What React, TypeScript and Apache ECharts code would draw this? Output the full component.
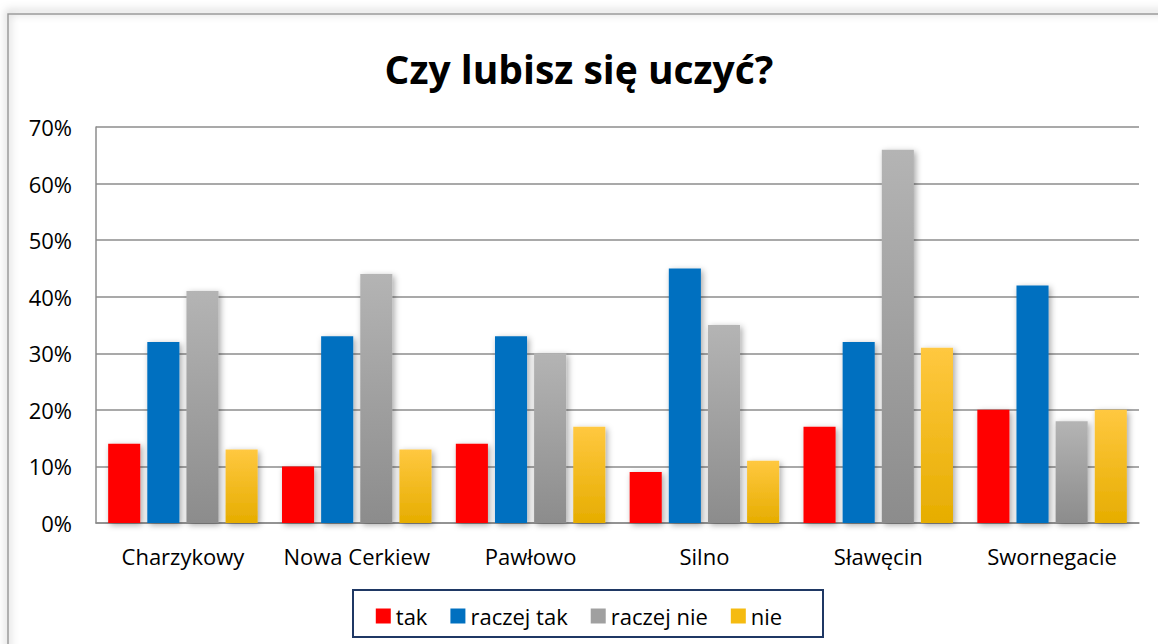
import React, { useEffect, useRef } from "react";
import * as echarts from "echarts";

const categories = ["Charzykowy", "Nowa Cerkiew", "Pawłowo", "Silno", "Sławęcin", "Swornegacie"];
const seriesNames = ["tak", "raczej tak", "raczej nie", "nie"];
const takValues = [14, 10, 14, 9, 17, 20];
const raczejTakValues = [32, 33, 33, 45, 32, 42];
const raczejNieValues = [41, 44, 30, 35, 66, 18];
const nieValues = [13, 13, 17, 11, 31, 20];
const titleText = "Czy lubisz się uczyć?";

const FONT = "'Open Sans', 'Noto Sans', sans-serif";

export default function App() {
  const ref = useRef<HTMLDivElement>(null);
  useEffect(() => {
    if (!ref.current) return;
    const chart = echarts.init(ref.current, null, { renderer: "svg" });
    const grad = (top: string, bottom: string) =>
      new echarts.graphic.LinearGradient(0, 0, 0, 1, [
        { offset: 0, color: top },
        { offset: 1, color: bottom },
      ]);
    const colors = [
      "#ff0000",
      "#0070c0",
      grad("#b4b4b4", "#8c8c8c"),
      grad("#ffc840", "#e6ad00"),
    ];
    const legendColors = ["#ff0000", "#0070c0", "#a0a0a0", "#f5bb10"];
    const data = [takValues, raczejTakValues, raczejNieValues, nieValues];
    chart.setOption({
      animation: false,
      backgroundColor: "#ffffff",
      title: {
        text: titleText,
        left: "center",
        top: 44,
        textStyle: { fontFamily: FONT, fontSize: 39, fontWeight: "bold", color: "#000" },
      },
      graphic: [
        {
          type: "rect",
          shape: { x: 8, y: 14, width: 1180, height: 660 },
          style: { fill: "none", stroke: "#9a9a9a", lineWidth: 1.5, shadowBlur: 8, shadowColor: "rgba(0,0,0,0.5)", shadowOffsetY: -2 },
          z: 10,
          silent: true,
        },
        {
          type: "rect",
          shape: { x: 353, y: 590, width: 470, height: 47 },
          style: { fill: "none", stroke: "#1f3864", lineWidth: 2 },
          z: 10,
          silent: true,
        },
      ],
      legend: {
        data: seriesNames.map((n, i) => ({ name: n, itemStyle: { color: legendColors[i] } })),
        left: "center",
        top: 600,
        itemWidth: 15,
        itemHeight: 15,
        itemGap: 23,
        icon: "rect",
        textStyle: { fontFamily: FONT, fontSize: 22, color: "#000", padding: [0, 0, 0, 0] },
      },
      grid: { left: 96, right: 19, top: 127, bottom: 121, containLabel: false },
      xAxis: {
        type: "category",
        data: categories,
        axisLine: { lineStyle: { color: "#8c8c8c", width: 1.5 } },
        axisTick: { show: false },
        axisLabel: { fontFamily: FONT, fontSize: 22, color: "#000", margin: 22, interval: 0, hideOverlap: false },
      },
      yAxis: {
        type: "value",
        min: 0,
        max: 70,
        interval: 10,
        axisLine: { show: true, lineStyle: { color: "#8c8c8c", width: 1.5 } },
        axisTick: { show: false },
        axisLabel: { fontFamily: FONT, fontSize: 22, color: "#000", formatter: "{value}%", margin: 24 },
        splitLine: { lineStyle: { color: "#8c8c8c", width: 1.5 } },
      },
      series: data.map((d, i) => ({
        name: seriesNames[i],
        type: "bar",
        data: d,
        barGap: "22%",
        barCategoryGap: "14%",
        itemStyle: {
          color: colors[i],
          shadowBlur: 6,
          shadowColor: "rgba(0,0,0,0.35)",
          shadowOffsetX: 2,
          shadowOffsetY: 2,
        },
      })),
    });
    return () => chart.dispose();
  }, []);
  return (
    <div
      ref={ref}
      style={{ position: "fixed", left: 0, top: 0, width: 1158, height: 644 }}
    />
  );
}
